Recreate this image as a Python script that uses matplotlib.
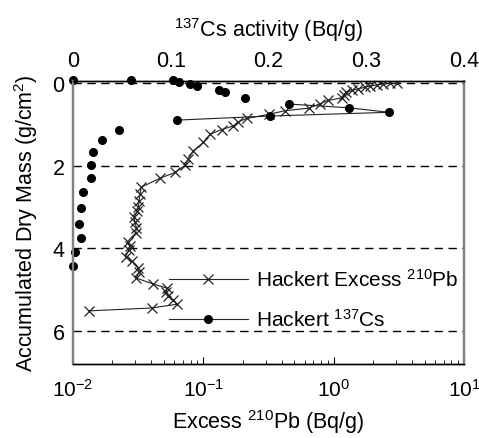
import matplotlib
matplotlib.use("Agg")
import matplotlib.pyplot as plt
import numpy as np

plt.rcParams['font.family'] = ['Liberation Sans', 'DejaVu Sans']
plt.rcParams['mathtext.fontset'] = 'custom'
plt.rcParams['mathtext.rm'] = 'Liberation Sans'
plt.rcParams['mathtext.it'] = 'Liberation Sans'
plt.rcParams['mathtext.bf'] = 'Liberation Sans'

# Excess 210Pb (Bq/g) vs accumulated dry mass (g/cm2)
pb_mass = [0.0, 0.0, 0.01, 0.04, 0.06, 0.09, 0.13, 0.17, 0.21, 0.28, 0.35, 0.41, 0.49,
           0.60, 0.66, 0.75, 0.85, 0.93, 1.03, 1.12, 1.23, 1.43, 1.65, 1.83, 1.99, 2.16,
           2.30, 2.52, 2.68, 2.85, 3.01, 3.10, 3.25, 3.37, 3.51, 3.63, 3.84, 3.94, 4.05,
           4.21, 4.32, 4.47, 4.58, 4.72, 4.87, 4.97, 5.07, 5.16, 5.25, 5.36, 5.45, 5.52]
pb_act = [3.05, 2.71, 2.41, 2.14, 1.90, 1.74, 1.55, 1.38, 1.24, 1.19, 1.15, 0.91, 0.787,
          0.647, 0.424, 0.317, 0.215, 0.186, 0.170, 0.138, 0.113, 0.100, 0.083, 0.0767,
          0.0724, 0.0607, 0.0465, 0.0333, 0.0327, 0.0321, 0.0317, 0.0312, 0.0294, 0.0299,
          0.0307, 0.0302, 0.0262, 0.0272, 0.0267, 0.0253, 0.0286, 0.0317, 0.0323, 0.0304,
          0.0413, 0.0529, 0.0517, 0.0539, 0.0585, 0.0625, 0.0402, 0.0133]

# 137Cs activity (Bq/g) vs accumulated dry mass
cs_mass = [-0.085, -0.085, -0.085, -0.04, 0.01, 0.06, 0.15, 0.21, 0.35, 0.50, 0.59, 0.70,
           0.79, 0.89, 1.13, 1.37, 1.67, 1.97, 2.29, 2.64, 3.03, 3.41, 3.76, 4.08, 4.44]
cs_act = [0.0, 0.059, 0.102, 0.108, 0.120, 0.127, 0.149, 0.155, 0.176, 0.221, 0.282, 0.323,
          0.2015, 0.106, 0.047, 0.030, 0.020, 0.018, 0.018, 0.010, 0.008, 0.006, 0.008,
          0.002, 0.0]
cs_joined = slice(9, 14)  # only these points are joined by a line in the original

fig = plt.figure(figsize=(4.79, 4.39), dpi=100)
ax = fig.add_axes([73/479, 1 - 365/439, 391/479, 283/439])
ax2 = ax.twiny()

# Pb on the log bottom axis
ax.plot(pb_act, pb_mass, color='#222222', lw=0.8, marker='x', ms=7, mew=0.9,
        mec='#222222', label='Hackert Excess $^{210}$Pb')
ax.set_xscale('log')
ax.set_xlim(1e-2, 1e1)
ax.set_ylim(6.81, -0.06)

for yy in [0, 2, 4, 6]:
    ax.axhline(yy, color='black', lw=1, dashes=(6, 4), zorder=0)

# Cs on the linear top axis
ax2.plot(np.array(cs_act)[cs_joined], np.array(cs_mass)[cs_joined], color='#222222', lw=0.8)
ax2.plot(cs_act, cs_mass, ls='none', marker='o', ms=5.5, color='black', clip_on=False)
cs_handle, = ax2.plot([], [], color='#222222', lw=0.8, marker='o', ms=5.5, mfc='black',
                      mec='black', label='Hackert $^{137}$Cs')
ax2.set_xlim(0, 0.4)
ax2.set_xticks([0, 0.1, 0.2, 0.3, 0.4])
ax2.set_xticklabels(['0', '0.1', '0.2', '0.3', '0.4'])

ax.set_yticks([0, 2, 4, 6])
ax.tick_params(axis='y', length=0, pad=6, labelsize=15.5)
ax.tick_params(axis='x', which='major', direction='in', length=5, pad=10, labelsize=15)
ax.tick_params(axis='x', which='minor', direction='in', length=3)
ax2.tick_params(axis='x', direction='in', length=2, pad=7, labelsize=15.5)

for a in (ax, ax2):
    a.spines['left'].set_color('#808080')
    a.spines['right'].set_color('#808080')
    a.spines['left'].set_linewidth(1.6)
    a.spines['right'].set_linewidth(1.6)
    a.spines['top'].set_linewidth(1.0)
    a.spines['bottom'].set_linewidth(1.0)

ax.set_xlabel('Excess $^{210}$Pb (Bq/g)', fontsize=15.5, labelpad=5)
ax2.set_xlabel('$^{137}$Cs activity (Bq/g)', fontsize=15.5, labelpad=10)
ax.set_ylabel('Accumulated Dry Mass (g/cm$^2$)', fontsize=15.5, labelpad=9)

pb_handle = ax.get_lines()[0]
ax.legend([pb_handle, cs_handle], [pb_handle.get_label(), cs_handle.get_label()],
          loc='upper left', bbox_to_anchor=(0.245, 0.338), frameon=False, fontsize=15,
          handlelength=3.8, handletextpad=0.4, labelspacing=0.85, borderpad=0,
          borderaxespad=0)

fig.savefig('out.png', dpi=100)
